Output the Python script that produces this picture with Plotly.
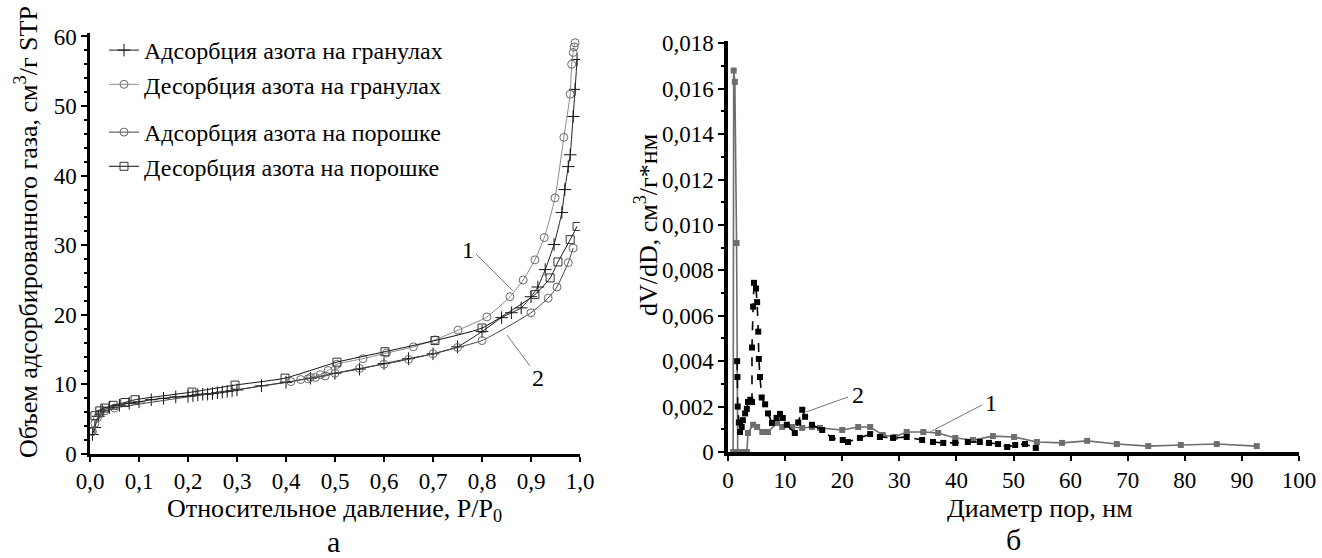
import plotly.graph_objects as go

# ---------------- data: left panel (isotherms) ----------------
gran_ads_p = [0.005, 0.01, 0.017, 0.025, 0.04, 0.06, 0.08, 0.10, 0.125, 0.15, 0.175, 0.20, 0.21, 0.22, 0.23,
              0.24, 0.25, 0.26, 0.27, 0.28, 0.29, 0.30, 0.35, 0.40, 0.45, 0.50, 0.55, 0.60, 0.65, 0.70, 0.75,
              0.80, 0.84, 0.86, 0.88, 0.90, 0.914, 0.929, 0.947, 0.963, 0.969, 0.976, 0.98, 0.986, 0.99, 0.994]
gran_ads_v = [2.8, 3.8, 5.4, 6.2, 6.7, 7.0, 7.3, 7.5, 7.8, 8.0, 8.2, 8.3, 8.4, 8.5, 8.6,
              8.6, 8.7, 8.8, 8.9, 9.0, 9.1, 9.2, 9.8, 10.3, 10.9, 11.6, 12.2, 13.0, 13.7, 14.4, 15.4,
              17.6, 19.6, 20.3, 21.0, 22.6, 24.0, 26.5, 30.1, 34.7, 38.0, 41.3, 43.0, 48.5, 52.4, 56.7]

gran_des_p = [0.45, 0.47, 0.486, 0.504, 0.557, 0.605, 0.66, 0.704, 0.751, 0.81, 0.857, 0.884, 0.908, 0.927,
              0.949, 0.967, 0.98, 0.983, 0.986, 0.988, 0.99]
gran_des_v = [11.0, 11.4, 12.0, 12.9, 13.7, 14.5, 15.4, 16.4, 17.8, 19.7, 22.6, 25.0, 27.9, 31.1,
              36.8, 45.5, 51.7, 56.0, 57.7, 58.5, 59.1]

pow_ads_p = [0.005, 0.01, 0.015, 0.02, 0.03, 0.05, 0.41, 0.43, 0.445, 0.46, 0.48, 0.50, 0.55, 0.60, 0.65,
             0.70, 0.75, 0.80, 0.90, 0.935, 0.953, 0.976, 0.986]
pow_ads_v = [3.2, 4.4, 5.2, 5.8, 6.2, 6.6, 10.4, 10.7, 10.8, 11.0, 11.2, 11.6, 12.3, 12.9, 13.6,
             14.4, 15.3, 16.3, 20.3, 22.4, 24.0, 27.5, 29.6]

pow_des_p = [0.01, 0.02, 0.03, 0.047, 0.071, 0.092, 0.208, 0.296, 0.398, 0.504, 0.602, 0.704, 0.80,
             0.908, 0.939, 0.955, 0.98, 0.994]
pow_des_v = [5.5, 6.2, 6.6, 7.0, 7.4, 7.8, 8.9, 9.9, 10.9, 13.2, 14.7, 16.3, 18.1,
             22.9, 25.3, 27.6, 30.8, 32.7]

left_x_ticks = [0.0, 0.1, 0.2, 0.3, 0.4, 0.5, 0.6, 0.7, 0.8, 0.9, 1.0]
left_y_ticks = [0, 10, 20, 30, 40, 50, 60]

# ---------------- data: right panel (pore size distribution) ----------------
s1_d = [0.9, 1.0, 1.2, 1.5, 1.7, 2.2, 2.8, 3.3, 3.5, 4.4, 5.1, 6.0, 7.0, 8.6, 9.5, 11.2, 13.0, 14.7,
        16.1, 20.0, 22.8, 24.9, 27.1, 29.2, 31.3, 34.2, 36.8, 39.8, 42.9, 46.4, 50.1, 54.1, 58.5,
        62.9, 68.1, 73.6, 79.3, 85.6, 92.6]
s1_v = [0.0, 0.0168, 0.0163, 0.0092, 0.0, 0.0, 0.0, 0.0, 0.00084, 0.0012, 0.0011, 0.00088, 0.00088,
        0.00128, 0.0011, 0.0011, 0.00106, 0.0011, 0.00106, 0.00097, 0.0011, 0.0011, 0.00075, 0.00066,
        0.00088, 0.00088, 0.00084, 0.00062, 0.00053, 0.0007, 0.00066, 0.00044, 0.0004, 0.00049,
        0.00035, 0.00026, 0.00031, 0.00035, 0.00026]

s2_d = [1.6, 1.65, 1.7, 1.9, 2.1, 2.4, 2.6, 3.0, 3.3, 3.5, 3.9, 4.2, 4.2, 4.4, 4.55, 4.9, 5.1, 5.3,
        5.4, 5.6, 5.9, 6.5, 7.0, 7.7, 8.5, 9.1, 9.6, 10.3, 11.7, 12.3, 13.0, 13.5, 14.7, 16.5, 18.2,
        20.1, 21.0, 23.1, 24.9, 26.6, 28.9, 31.3, 34.0, 35.9, 37.7, 39.8, 42.0, 44.1, 45.7, 47.3,
        48.9, 50.3, 52.0, 53.9]
s2_v = [0.0040, 0.0033, 0.0020, 0.0013, 0.00088, 0.0011, 0.0014, 0.0017, 0.0019, 0.0022, 0.0023,
        0.0022, 0.0046, 0.0064, 0.00745, 0.0072, 0.0066, 0.0053, 0.0041, 0.0033, 0.0024, 0.0021,
        0.0017, 0.00128, 0.0015, 0.00168, 0.0015, 0.0012, 0.00084, 0.0013, 0.00186, 0.00155, 0.0012,
        0.00097, 0.00062, 0.00053, 0.00044, 0.00062, 0.00079, 0.00066, 0.00062, 0.00066, 0.00053,
        0.00044, 0.0004, 0.0004, 0.00044, 0.00044, 0.0004, 0.00035, 0.00022, 0.00031, 0.00035, 0.00018]

right_x_ticks = [0, 10, 20, 30, 40, 50, 60, 70, 80, 90, 100]
right_y_ticks = [0, 0.002, 0.004, 0.006, 0.008, 0.010, 0.012, 0.014, 0.016, 0.018]
right_y_text = ["0", "0,002", "0,004", "0,006", "0,008", "0,010", "0,012", "0,014", "0,016", "0,018"]

# ---------------- figure ----------------
W, H = 1322, 558
SERIF = "Liberation Serif, Times New Roman, serif"

fig = go.Figure()

fig.add_trace(go.Scatter(x=gran_ads_p, y=gran_ads_v, mode="lines+markers",
                         name="Адсорбция азота на гранулах", legend="legend", legendgroup="g1",
                         line=dict(color="#222222", width=1, shape="spline", smoothing=0.5),
                         marker=dict(symbol="cross-thin-open", size=9, color="#111111",
                                     line=dict(width=1, color="#111111"))))
fig.add_trace(go.Scatter(x=gran_des_p, y=gran_des_v, mode="lines+markers",
                         name="Десорбция азота на гранулах", legend="legend", legendgroup="g2",
                         line=dict(color="#8a8a8a", width=1, shape="spline", smoothing=0.5),
                         marker=dict(symbol="circle-open", size=8, color="#6a6a6a",
                                     line=dict(width=1, color="#6a6a6a"))))
fig.add_trace(go.Scatter(x=pow_ads_p, y=pow_ads_v, mode="lines+markers",
                         name="Адсорбция азота на порошке", legend="legend2", legendgroup="g3",
                         line=dict(color="#444444", width=1, shape="spline", smoothing=0.5),
                         marker=dict(symbol="circle-open", size=8, color="#6a6a6a",
                                     line=dict(width=1, color="#6a6a6a"))))
fig.add_trace(go.Scatter(x=pow_des_p, y=pow_des_v, mode="lines+markers",
                         name="Десорбция азота на порошке", legend="legend2", legendgroup="g4",
                         line=dict(color="#111111", width=1, shape="spline", smoothing=0.5),
                         marker=dict(symbol="square-open", size=8, color="#333333",
                                     line=dict(width=1, color="#333333"))))

fig.add_trace(go.Scatter(x=s1_d, y=s1_v, xaxis="x2", yaxis="y2", mode="lines+markers",
                         showlegend=False,
                         line=dict(color="#6e6e6e", width=1.6),
                         marker=dict(symbol="square", size=6, color="#6e6e6e")))
fig.add_trace(go.Scatter(x=s2_d, y=s2_v, xaxis="x2", yaxis="y2", mode="lines+markers",
                         showlegend=False,
                         line=dict(color="#000000", width=1.6, dash="dash"),
                         marker=dict(symbol="square", size=6, color="#000000")))

def px_x(p):
    return p / W

def px_y(p):
    return 1 - p / H

axis_common = dict(showgrid=False, zeroline=False, showline=True, linecolor="black",
                   ticks="outside", tickcolor="black", automargin=False,
                   tickfont=dict(family=SERIF, size=23, color="black"))

fig.update_layout(
    width=W, height=H,
    margin=dict(l=0, r=0, t=0, b=0),
    paper_bgcolor="white", plot_bgcolor="white",
    separators=", ",
    xaxis=dict(domain=[px_x(90), px_x(580)], range=[0, 1.0], anchor="y",
               tickvals=left_x_ticks, tickformat=".1f", linewidth=2.5, ticklen=5, tickwidth=1.5,
               **axis_common),
    yaxis=dict(domain=[px_y(454), px_y(33)], range=[0, 60.5], anchor="x",
               tickvals=left_y_ticks, linewidth=2.5, ticklen=6, tickwidth=1.5,
               minor=dict(dtick=2, ticks="outside", ticklen=3, tickcolor="black"),
               **axis_common),
    xaxis2=dict(domain=[px_x(728), px_x(1299)], range=[0, 100], anchor="y2",
                tickvals=right_x_ticks, linewidth=3.5, ticklen=5, tickwidth=2,
                **axis_common),
    yaxis2=dict(domain=[px_y(452), px_y(41)], range=[0, 0.0181], anchor="x2",
                tickvals=right_y_ticks, ticktext=right_y_text, linewidth=3.5, ticklen=6, tickwidth=2,
                minor=dict(dtick=0.001, ticks="outside", ticklen=3, tickcolor="black"),
                **axis_common),
    legend=dict(x=px_x(104), y=px_y(28), xanchor="left", yanchor="top",
                bgcolor="rgba(0,0,0,0)", traceorder="grouped", tracegroupgap=0,
                itemwidth=30, font=dict(family=SERIF, size=24, color="black")),
    legend2=dict(x=px_x(104), y=px_y(110), xanchor="left", yanchor="top",
                 bgcolor="rgba(0,0,0,0)", traceorder="grouped", tracegroupgap=0,
                 itemwidth=30, font=dict(family=SERIF, size=24, color="black")),
)

ann_font = dict(family=SERIF, size=26, color="black")
num_font = dict(family=SERIF, size=24, color="black")
annotations = [
    dict(text="Объем адсорбированного газа, см<sup>3</sup>/г STP", x=px_x(27), y=px_y(232),
         textangle=-90, font=ann_font),
    dict(text="Относительное давление, P/P<sub>0</sub>", x=px_x(334), y=px_y(510), font=ann_font),
    dict(text="а", x=px_x(333), y=px_y(541), font=dict(family=SERIF, size=30, color="black")),
    dict(text="dV/dD, см<sup>3</sup>/г*нм", x=px_x(646), y=px_y(225), textangle=-90, font=ann_font),
    dict(text="Диаметр пор, нм", x=px_x(1040), y=px_y(508), font=ann_font),
    dict(text="б", x=px_x(1013), y=px_y(539), font=dict(family=SERIF, size=30, color="black")),
    dict(text="1", x=px_x(468), y=px_y(250), font=num_font),
    dict(text="2", x=px_x(538), y=px_y(378), font=num_font),
    dict(text="2", x=px_x(858), y=px_y(395), font=num_font),
    dict(text="1", x=px_x(991), y=px_y(403), font=num_font),
]
for a in annotations:
    a.update(xref="paper", yref="paper", showarrow=False, xanchor="center", yanchor="middle")
fig.update_layout(annotations=annotations)

leader = dict(color="#777777", width=1)
fig.update_layout(shapes=[
    dict(type="line", xref="paper", yref="paper", x0=px_x(476), y0=px_y(254), x1=px_x(513), y1=px_y(291), line=leader),
    dict(type="line", xref="paper", yref="paper", x0=px_x(530), y0=px_y(366), x1=px_x(507), y1=px_y(335), line=leader),
    dict(type="line", xref="paper", yref="paper", x0=px_x(848), y0=px_y(397), x1=px_x(806), y1=px_y(412), line=leader),
    dict(type="line", xref="paper", yref="paper", x0=px_x(982), y0=px_y(405), x1=px_x(930), y1=px_y(432), line=leader),
])

fig.write_html("out.html")
